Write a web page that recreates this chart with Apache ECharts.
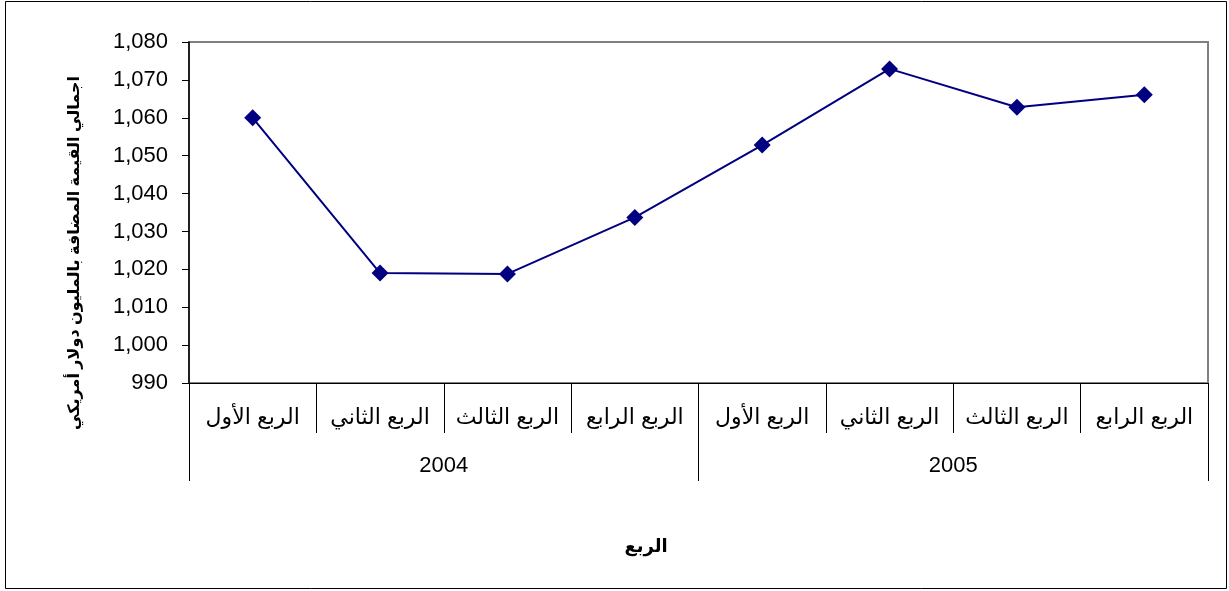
<!DOCTYPE html>
<html>
<head>
<meta charset="utf-8">
<script src="https://cdn.jsdelivr.net/npm/echarts@6/dist/echarts.min.js"></script>
<style>
html,body{margin:0;padding:0;background:#fff;}
#chart{width:1229px;height:591px;}
</style>
</head>
<body>
<div id="chart"></div>
<script>
var quarters = ['الربع الأول','الربع الثاني','الربع الثالث','الربع الرابع','الربع الأول','الربع الثاني','الربع الثالث','الربع الرابع'];
var years = ['2004','2005'];
var values = [1060, 1019, 1018.8, 1033.7, 1052.8, 1072.9, 1062.8, 1066.1];
var yMin = 990, yMax = 1080, yStep = 10;
var xTitle = 'الربع';
var yTitle = 'اجمالي القيمة المضافة بالمليون دولار أمريكي';

var FONT = 'Arial, "Liberation Sans", "DejaVu Sans", sans-serif';
var chart = echarts.init(document.getElementById('chart'), null, {renderer:'canvas'});
chart.setOption({
  animation: false,
  backgroundColor: '#fff',
  grid: {left:189, right:21, top:42, bottom:208, show:true, borderColor:'#808080', borderWidth:2, backgroundColor:'transparent'},
  title: {
    text: xTitle, left: 641, top: 533, textAlign: 'center',
    textStyle: {fontFamily: FONT, fontSize: 18, fontWeight: 'bold', color: '#000'}
  },
  xAxis: [{
    type: 'category', data: quarters, position: 'bottom', boundaryGap: true,
    axisLine: {show: true, lineStyle: {color: '#000', width: 1}},
    axisTick: {show: true, length: 50, interval: 0, lineStyle: {color: '#000', width: 1}},
    axisLabel: {interval: 0, margin: 24, fontFamily: FONT, fontSize: 22, color: '#000'},
    splitLine: {show: false}
  }, {
    type: 'category', data: years, position: 'bottom', offset: 0, boundaryGap: true,
    axisLine: {show: false},
    axisTick: {show: true, length: 98, interval: 0, lineStyle: {color: '#000', width: 1}},
    axisLabel: {interval: 0, margin: 72, fontFamily: FONT, fontSize: 22, color: '#000'},
    splitLine: {show: false}
  }],
  yAxis: {
    type: 'value', min: yMin, max: yMax, interval: yStep,
    axisLine: {show: true, lineStyle: {color: '#000', width: 1.5}},
    axisTick: {show: true, length: 7, lineStyle: {color: '#000'}},
    axisLabel: {margin: 21, fontFamily: FONT, fontSize: 22, color: '#000',
      formatter: function(v){ return v.toLocaleString('en-US'); }},
    splitLine: {show: false}
  },
  graphic: [{
    type: 'rect', shape: {x: 5.5, y: 1.5, width: 1221, height: 587},
    style: {fill: 'none', stroke: '#000', lineWidth: 1}, silent: true, z: 100
  }, {
    type: 'text', x: 75, y: 253, rotation: Math.PI/2,
    style: {text: yTitle, fontFamily: FONT, fontSize: 16, fontWeight: 'bold', fill: '#000',
      align: 'center', verticalAlign: 'middle'}
  }],
  series: [{
    type: 'line', xAxisIndex: 0, data: values,
    symbol: 'diamond', symbolSize: 17,
    lineStyle: {color: '#000080', width: 2},
    itemStyle: {color: '#000080'}
  }]
});
</script>
</body>
</html>
